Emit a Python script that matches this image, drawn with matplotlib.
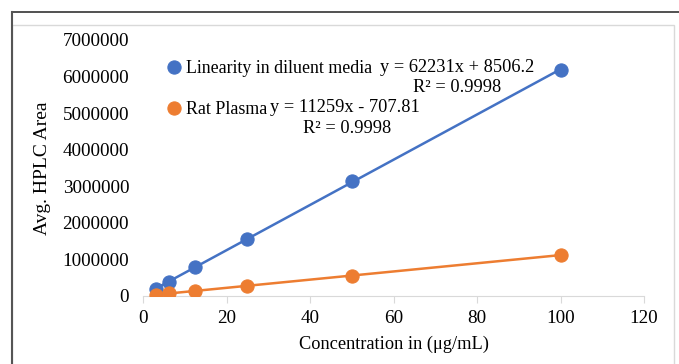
import numpy as np
import matplotlib
matplotlib.use("Agg")
import matplotlib.pyplot as plt
from matplotlib.lines import Line2D
from matplotlib.patches import Rectangle

conc = [3.125, 6.25, 12.5, 25, 50, 100]
diluent = [200000, 395000, 780000, 1560000, 3150000, 6180000]
plasma = [34000, 70000, 140000, 281000, 555000, 1120000]
series_names = ["Linearity in diluent media", "Rat Plasma"]
eq1 = ["y = 62231x + 8506.2", "R² = 0.9998"]
eq2 = ["y = 11259x - 707.81", "R² = 0.9998"]
xticks = [0, 20, 40, 60, 80, 100, 120]
yticks = [0, 1000000, 2000000, 3000000, 4000000, 5000000, 6000000, 7000000]

plt.rcParams['font.family'] = ['Liberation Serif', 'DejaVu Serif']
FS = 13.2
FT = 13.8

W, H = 679, 364
fig = plt.figure(figsize=(W/100, H/100), dpi=100)

# frame lines
fig.add_artist(Line2D([12/W, 1], [1-12/H, 1-12/H], color='#333333', lw=1.2, transform=fig.transFigure))
fig.add_artist(Line2D([12/W, 12/W], [0, 1-12/H], color='#555555', lw=1.5, transform=fig.transFigure))
fig.add_artist(Rectangle((12/W, -0.05), (674-12)/W, 1.05-25/H, fill=False, ec='#d9d9d9', lw=1, transform=fig.transFigure))

ax = fig.add_axes([143/W, 1-296/H, (644-143)/W, (296-40)/H])
blue, orange = '#4472C4', '#ED7D31'

for ys, c, name in [(diluent, blue, series_names[0]), (plasma, orange, series_names[1])]:
    m, b = np.polyfit(conc, ys, 1)
    xs = np.array([min(conc), max(conc)])
    ax.plot(xs, m*xs + b, color=c, lw=1.8, zorder=2)
    ax.plot(conc, ys, 'o', color=c, ms=9.5, mec=c, mew=0.8, zorder=3, label=name)

ax.set_xlim(0, 120)
ax.set_ylim(0, 7000000)
ax.set_xticks(xticks)
ax.set_yticks(yticks)
ax.set_yticklabels([str(v) for v in yticks])
for s in ['top', 'right', 'left']:
    ax.spines[s].set_visible(False)
ax.spines['bottom'].set_color('#d9d9d9')
ax.tick_params(axis='y', length=0, pad=10, labelsize=FT)
ax.tick_params(axis='x', length=5, color='#d9d9d9', pad=5, labelsize=FT)
ax.set_ylabel('Avg. HPLC Area', fontsize=14, labelpad=8)
ax.set_xlabel('Concentration in (μg/mL)', fontsize=FS, labelpad=6)

leg = ax.legend(loc='upper left', bbox_to_anchor=(169/W, 1-60/H), bbox_transform=fig.transFigure,
                frameon=False, fontsize=12.9,
                handlelength=0.6, handletextpad=0.35, labelspacing=1.36, borderpad=0, borderaxespad=0)

ax.text(380/W, 1-67/H, eq1[0], transform=fig.transFigure, fontsize=FS, va='center', ha='left')
ax.text(413/W, 1-87/H, eq1[1], transform=fig.transFigure, fontsize=FS, va='center', ha='left')
ax.text(270/W, 1-107/H, eq2[0], transform=fig.transFigure, fontsize=FS, va='center', ha='left')
ax.text(303/W, 1-128/H, eq2[1], transform=fig.transFigure, fontsize=FS, va='center', ha='left')

fig.savefig('out.png', dpi=100)
